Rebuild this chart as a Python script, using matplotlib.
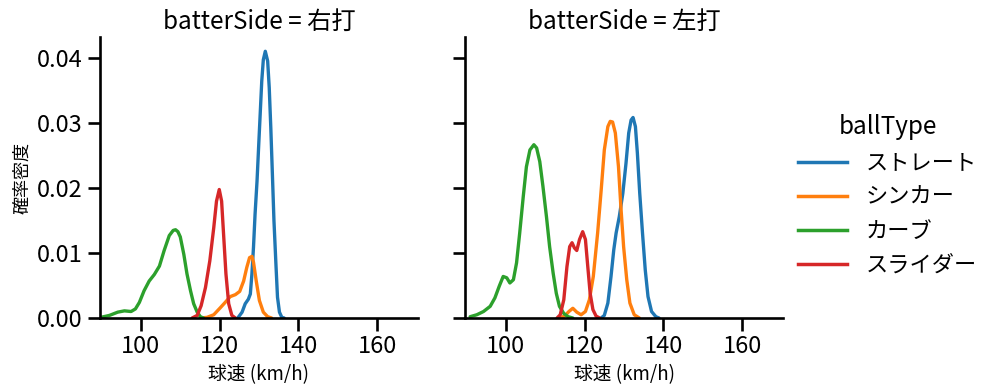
import numpy as np
import matplotlib.pyplot as plt
from matplotlib.lines import Line2D

plt.rcParams['font.family'] = ['Noto Sans CJK JP', 'DejaVu Sans']

# 球種と色
ball_types = ["ストレート", "シンカー", "カーブ", "スライダー"]
colors = ["#1f77b4", "#ff7f0e", "#2ca02c", "#d62728"]
sides = ["右打", "左打"]

# 右打: 読み取った密度曲線 (球速, 密度)
r_straight_x = [124.6, 125.7, 126.5, 127.3, 127.8, 128.2, 128.6, 129.0, 129.5, 129.9, 130.3, 130.7, 131.1, 131.6,
                132.2, 132.6, 133.0, 133.4, 133.8, 134.3, 134.7, 135.2, 135.8, 136.4]
r_straight_y = [0.0, 0.0009, 0.0022, 0.0029, 0.0037, 0.0068, 0.0109, 0.0160, 0.0211, 0.0263, 0.0314, 0.0365, 0.0398, 0.0411,
                0.0396, 0.0355, 0.0293, 0.0222, 0.0150, 0.0083, 0.0032, 0.0009, 0.0001, 0.0]
r_sinker_x = [115.1, 116.8, 118.5, 120.2, 121.4, 122.7, 124.0, 125.1, 126.1, 126.9, 127.6, 128.2, 128.6, 129.3, 130.1, 131.1, 132.2, 133.2]
r_sinker_y = [0.0, 0.0001, 0.0005, 0.0016, 0.0024, 0.0033, 0.0036, 0.0041, 0.0057, 0.0078, 0.0093, 0.0095, 0.0086, 0.0057, 0.0027, 0.0009, 0.0002, 0.0]
r_curve_x = [89.8, 92.0, 94.1, 95.8, 97.5, 98.6, 99.6, 100.8, 102.1, 103.4, 104.7, 105.9, 107.2, 108.2, 108.8, 109.4, 110.0,
             110.9, 111.7, 112.6, 113.4, 114.3, 115.1, 115.9]
r_curve_y = [0.0001, 0.0004, 0.0009, 0.0011, 0.0010, 0.0014, 0.0024, 0.0042, 0.0057, 0.0067, 0.0080, 0.0104, 0.0127, 0.0135, 0.0136, 0.0133, 0.0125,
             0.0098, 0.0068, 0.0042, 0.0022, 0.0009, 0.0002, 0.0]
r_slider_x = [113.0, 114.3, 115.3, 116.4, 117.5, 118.5, 119.2, 119.9, 120.5, 121.0, 121.6, 122.3, 123.1, 124.0]
r_slider_y = [0.0, 0.0004, 0.0019, 0.0047, 0.0088, 0.0139, 0.0180, 0.0198, 0.0180, 0.0129, 0.0068, 0.0022, 0.0004, 0.0]

# 左打
l_straight_x = [124.2, 125.0, 125.9, 126.7, 127.4, 128.0, 128.8, 129.7, 130.5, 131.2, 131.8, 132.3, 132.9, 133.4,
                134.0, 134.7, 135.4, 136.1, 137.0, 138.1, 138.9]
l_straight_y = [0.0, 0.0004, 0.0023, 0.0064, 0.0105, 0.0131, 0.0156, 0.0192, 0.0238, 0.0285, 0.0305, 0.0309, 0.0295, 0.0254,
                0.0192, 0.0131, 0.0074, 0.0033, 0.0010, 0.0002, 0.0]
l_sinker_x = [113.6, 114.9, 116.0, 117.0, 118.0, 119.1, 120.2, 121.2, 122.2, 123.3, 124.2, 125.0, 125.9, 126.5, 127.1, 127.8,
              128.6, 129.2, 129.9, 130.7, 131.5, 132.6, 133.9]
l_sinker_y = [0.0, 0.0003, 0.0010, 0.0015, 0.0009, 0.0005, 0.0010, 0.0028, 0.0064, 0.0131, 0.0197, 0.0259, 0.0295, 0.0303, 0.0302, 0.0285,
              0.0233, 0.0172, 0.0110, 0.0059, 0.0023, 0.0005, 0.0]
l_curve_x = [90.9, 92.6, 94.3, 96.0, 97.2, 98.3, 99.3, 100.2, 101.0, 101.9, 102.7, 103.5, 104.4, 105.2, 106.1, 107.1, 107.8,
             108.6, 109.4, 110.3, 111.1, 112.0, 112.8, 113.6, 114.7, 115.8, 117.0]
l_curve_y = [0.0002, 0.0005, 0.0010, 0.0018, 0.0031, 0.0049, 0.0064, 0.0062, 0.0054, 0.0059, 0.0085, 0.0131, 0.0187, 0.0233, 0.0259, 0.0267, 0.0262,
             0.0241, 0.0203, 0.0156, 0.0110, 0.0069, 0.0038, 0.0018, 0.0007, 0.0002, 0.0]
l_slider_x = [113.0, 113.8, 114.7, 115.5, 116.2, 116.8, 117.4, 118.0, 118.7, 119.5, 120.2, 120.8, 121.4, 122.1, 122.9, 123.8]
l_slider_y = [0.0, 0.0005, 0.0028, 0.0079, 0.0110, 0.0116, 0.0108, 0.0104, 0.0121, 0.0133, 0.0121, 0.0079, 0.0038, 0.0013, 0.0003, 0.0]

curves = {
    "右打": [(r_straight_x, r_straight_y), (r_sinker_x, r_sinker_y), (r_curve_x, r_curve_y), (r_slider_x, r_slider_y)],
    "左打": [(l_straight_x, l_straight_y), (l_sinker_x, l_sinker_y), (l_curve_x, l_curve_y), (l_slider_x, l_slider_y)],
}

fig = plt.figure(figsize=(9.95, 3.91), dpi=100)
ax1 = fig.add_axes([100 / 995, 73 / 391, 318 / 995, 281 / 391])
ax2 = fig.add_axes([465 / 995, 73 / 391, 318 / 995, 281 / 391], sharey=ax1)

for ax, side in zip([ax1, ax2], sides):
    for (x, y), c in zip(curves[side], colors):
        ax.plot(x, y, color=c, lw=2.4, solid_joinstyle="round", solid_capstyle="round")
    ax.set_xlim(89.6, 170.4)
    ax.set_ylim(0, 0.0433)
    ax.set_xticks([100, 120, 140, 160])
    ax.set_yticks([0, 0.01, 0.02, 0.03, 0.04])
    ax.set_title(f"batterSide = {side}", fontsize=17.5)
    ax.set_xlabel("球速 (km/h)", fontsize=13.5)
    for s in ["top", "right"]:
        ax.spines[s].set_visible(False)
    for s in ["left", "bottom"]:
        ax.spines[s].set_linewidth(1.9)
    ax.tick_params(labelsize=17, length=9, width=1.9)

ax1.set_yticklabels(["0.00", "0.01", "0.02", "0.03", "0.04"])
ax1.set_ylabel("確率密度", fontsize=13)
ax2.tick_params(labelleft=False)

handles = [Line2D([], [], color=c, lw=2.5) for c in colors]
fig.legend(handles, ball_types, title="ballType", loc="center left",
           bbox_to_anchor=(778 / 995, 0.5), frameon=False, fontsize=16,
           title_fontsize=17.5, handlelength=2.2, handletextpad=0.85, labelspacing=0.5)

fig.savefig("out.png", dpi=100)
